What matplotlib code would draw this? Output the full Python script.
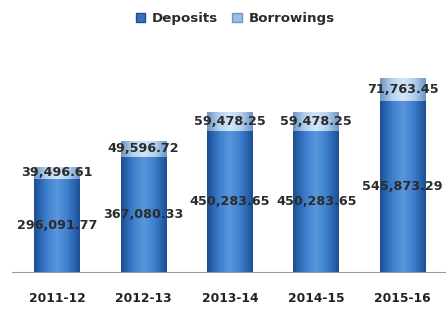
import numpy as np
import matplotlib.pyplot as plt
from matplotlib.colors import LinearSegmentedColormap
from matplotlib.patches import Patch

years = ['2011-12', '2012-13', '2013-14', '2014-15', '2015-16']
deposits = [296091.77, 367080.33, 450283.65, 450283.65, 545873.29]
borrowings = [39496.61, 49596.72, 59478.25, 59478.25, 71763.45]

fig = plt.figure(figsize=(4.46, 3.12), dpi=100)
ax = fig.add_axes([0.027, 0.128, 0.973, 0.72])

x = np.arange(len(years))
b1 = ax.bar(x, deposits, width=0.53, color='#3570bf', zorder=2)
b2 = ax.bar(x, borrowings, width=0.53, bottom=deposits, color='#9cbde3', zorder=2)

# horizontal shading so the bars look rounded
dep_cmap = LinearSegmentedColormap.from_list('dep', ['#1d4f94', '#3b7ccc', '#5a96dc', '#3b7ccc', '#1d4f94'])
bor_cmap = LinearSegmentedColormap.from_list('bor', ['#6f95c4', '#b4d0ee', '#d6e6f7', '#b4d0ee', '#6f95c4'])
grad = np.linspace(0, 1, 64).reshape(1, -1)
for bars, cmap in [(b1, dep_cmap), (b2, bor_cmap)]:
    for p in bars:
        x0, y0 = p.get_x(), p.get_y()
        im = ax.imshow(grad, cmap=cmap, aspect='auto', zorder=3,
                       extent=[x0, x0 + p.get_width(), y0, y0 + p.get_height()])
        im.set_clip_path(p)

for i in range(len(years)):
    ax.text(x[i], deposits[i] / 2, f'{deposits[i]:,.2f}', ha='center', va='center',
            fontsize=9.2, fontweight='bold', color='#2b2b2b', zorder=5)
    ax.text(x[i], deposits[i] + borrowings[i] / 2, f'{borrowings[i]:,.2f}', ha='center',
            va='center', fontsize=9.2, fontweight='bold', color='#2b2b2b', zorder=5)

ax.set_xlim(-0.52, 4.5)
ax.set_ylim(0, 715000)
ax.set_xticks(x)
ax.set_xticklabels(years, fontsize=8.8, fontweight='bold', color='#222222')
ax.tick_params(axis='x', length=0, pad=14)
ax.set_yticks([])
for s in ['top', 'right', 'left']:
    ax.spines[s].set_visible(False)
ax.spines['bottom'].set_color('#9a9a9a')

handles = [Patch(facecolor='#3570bf', edgecolor='#1d4f94'),
           Patch(facecolor='#9cbde3', edgecolor='#6f95c4')]
fig.legend(handles, ['Deposits', 'Borrowings'], loc='upper center', bbox_to_anchor=(0.527, 1.0),
           ncol=2, frameon=False, prop={'weight': 'bold', 'size': 9.6}, labelcolor='#2b2b2b',
           handlelength=0.7, handleheight=0.7, handletextpad=0.5, columnspacing=1.1)

plt.savefig('out.png', dpi=100)
